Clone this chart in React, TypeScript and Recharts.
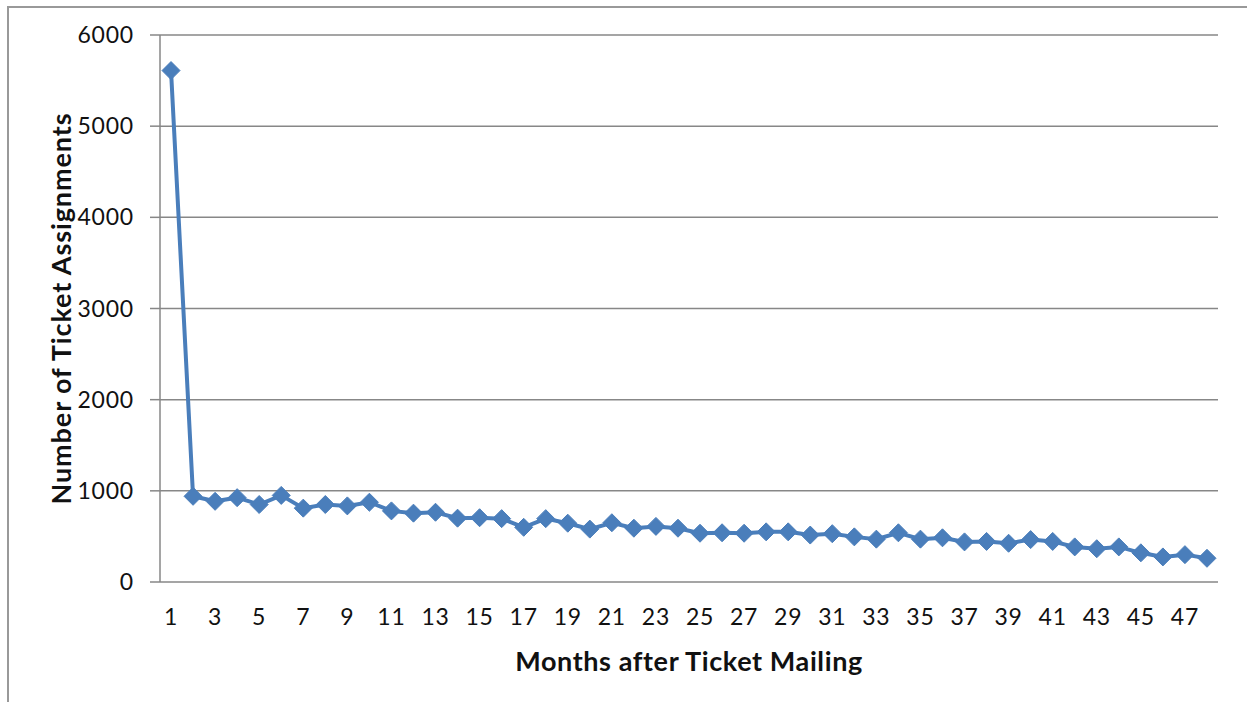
import React from "react";
import { LineChart, Line, XAxis, YAxis, CartesianGrid } from "recharts";

// Ticket assignments per month after the mailing
const months = Array.from({ length: 48 }, (_, i) => i + 1);
const assignments = [
  5610, 940, 885, 925, 850, 950, 810, 850, 835, 875,
  780, 755, 765, 700, 705, 695, 600, 695, 645, 580,
  650, 590, 610, 590, 535, 540, 535, 550, 550, 515,
  530, 495, 470, 540, 470, 485, 440, 445, 425, 465,
  445, 385, 365, 385, 320, 275, 300, 260,
];

const labelTicks = months.filter((m) => m % 2 === 1);
const markTicks = [...months.map((m) => m - 0.5), 48.5];
const yTicks = [0, 1000, 2000, 3000, 4000, 5000, 6000];

const data = months.map((m, i) => ({ month: m, value: assignments[i] }));

const BLUE = "#4a7ebb";
const GRAY = "#878787";
const FONT = "Lato, 'Open Sans', sans-serif";

function Diamond(props: any) {
  const { cx, cy } = props;
  if (cx == null || cy == null) return null;
  const r = 9;
  return (
    <polygon
      points={`${cx},${cy - r} ${cx + r},${cy} ${cx},${cy + r} ${cx - r},${cy}`}
      fill={BLUE}
      stroke={BLUE}
      strokeWidth={1}
    />
  );
}

function XTitle(props: any) {
  const { viewBox } = props;
  return (
    <text
      x={viewBox.x + viewBox.width / 2}
      y={viewBox.y + 78}
      textAnchor="middle"
      dominantBaseline="central"
      fontFamily={FONT}
      fontWeight={700}
      fontSize={27}
      letterSpacing={0.6}
      fill="#111"
    >
      Months after Ticket Mailing
    </text>
  );
}

function YTitle(props: any) {
  const { viewBox } = props;
  const x = viewBox.x + 22;
  const y = viewBox.y + viewBox.height / 2;
  return (
    <text
      x={x}
      y={y}
      transform={`rotate(-90 ${x} ${y})`}
      textAnchor="middle"
      dominantBaseline="central"
      fontFamily={FONT}
      fontWeight={700}
      fontSize={27}
      letterSpacing={0.9}
      fill="#111"
    >
      Number of Ticket Assignments
    </text>
  );
}

const tickStyle = { fontSize: 23, fill: "#111", fontFamily: FONT, letterSpacing: 0.8 };

export default function App() {
  return (
    <div
      style={{
        position: "absolute",
        top: 6,
        left: 7,
        width: 1240,
        height: 696,
        borderTop: "2px solid #999",
        borderLeft: "2px solid #999",
        boxSizing: "border-box",
        background: "#fff",
      }}
    >
      <LineChart
        width={1238}
        height={694}
        data={data}
        margin={{ top: 27, right: 29, bottom: 30, left: 29 }}
      >
        <CartesianGrid vertical={false} stroke={GRAY} strokeWidth={1.5} />
        <XAxis
          xAxisId="marks"
          dataKey="month"
          type="number"
          domain={[0.5, 48.5]}
          ticks={markTicks}
          tickFormatter={() => ""}
          height={0}
          tickSize={10}
          stroke={GRAY}
          strokeWidth={1.5}
          interval={0}
        />
        <XAxis
          xAxisId="labels"
          dataKey="month"
          type="number"
          domain={[0.5, 48.5]}
          ticks={labelTicks}
          height={90}
          axisLine={false}
          tickLine={false}
          tickSize={10}
          tickMargin={17}
          interval={0}
          tick={tickStyle}
          label={<XTitle />}
        />
        <YAxis
          domain={[0, 6000]}
          ticks={yTicks}
          width={122}
          tickSize={10}
          tickMargin={16}
          stroke={GRAY}
          strokeWidth={1.5}
          interval={0}
          tick={tickStyle}
          label={<YTitle />}
        />
        <Line
          xAxisId="labels"
          dataKey="value"
          type="linear"
          stroke={BLUE}
          strokeWidth={4}
          dot={<Diamond />}
          activeDot={false}
          isAnimationActive={false}
        />
      </LineChart>
    </div>
  );
}
